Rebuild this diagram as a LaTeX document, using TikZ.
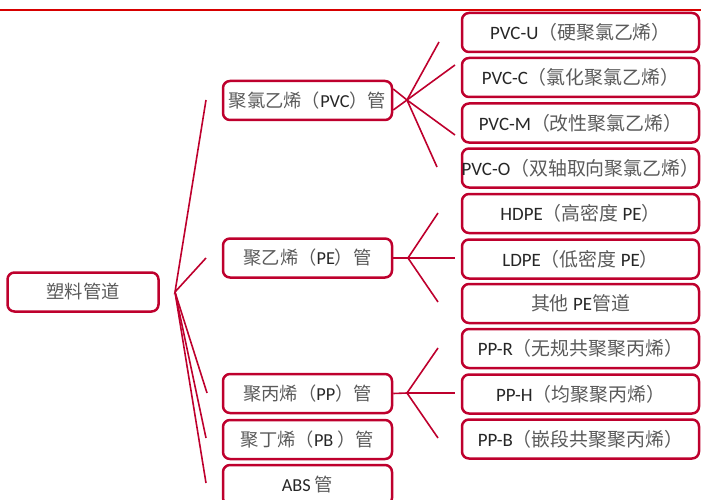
\documentclass[tikz,border=0pt]{standalone}
\usepackage{fontspec}
\setmainfont{Carlito}
\newfontfamily\cjkf{Noto Sans CJK SC}
\usetikzlibrary{calc}
\definecolor{boxred}{RGB}{190,0,45}
\definecolor{topred}{RGB}{215,0,0}
\definecolor{cjkgray}{RGB}{90,90,90}
\newcommand{\zh}[1]{{\cjkf\color{cjkgray}#1}}
\newcommand{\lbl}[1]{\makebox[0pt][c]{#1}}
\tikzset{
  box/.style={draw=boxred, line width=2.5pt, rounded corners=7pt, minimum height=39pt,
    inner sep=0pt, font=\fontsize{18.3}{20}\selectfont, text=black!85},
  rootbox/.style={box, minimum width=151pt},
  midbox/.style={box, minimum width=169pt},
  leafbox/.style={box, minimum width=237pt, font=\fontsize{18.9}{20}\selectfont},
  link/.style={draw=boxred, line width=1.6pt},
  topline/.style={draw=topred, line width=1.4pt},
}
\begin{document}
\begin{tikzpicture}[x=1pt,y=-1pt]
\useasboundingbox (0,0) rectangle (701,500);
\clip (0,0) rectangle (701,500);
% top rule
\coordinate (tl) at (0,10);
\coordinate (tr) at (701,10);
\draw[topline] (tl) -- (tr);

% root
\node[rootbox] (root) at (83,292) {\lbl{\zh{塑料管道}}};

% level 2
\node[midbox] (pvc) at (307.5,100.5) {\lbl{\zh{聚氯乙烯（}PVC\zh{）管}}};
\node[midbox] (pe)  at (307.5,258)   {\lbl{\zh{聚乙烯（}PE\zh{）管}}};
\node[midbox] (pp)  at (307.5,393.5) {\lbl{\zh{聚丙烯（}PP\zh{）管}}};
\node[midbox] (pb)  at (307.5,439.5) {\lbl{\zh{聚丁烯（}PB \zh{）管}}};
\node[midbox, minimum height=40pt] (abs) at (307.5,485) {\lbl{ABS \zh{管}}};

% leaves
\node[leafbox] (pvcu) at (580.5,32.5)  {\lbl{PVC-U\zh{（硬聚氯乙烯）}}};
\node[leafbox] (pvcc) at (580.5,77.5)  {\lbl{PVC-C\zh{（氯化聚氯乙烯）}}};
\node[leafbox] (pvcm) at (580.5,123)   {\lbl{PVC-M\zh{（改性聚氯乙烯）}}};
\node[leafbox] (pvco) at (580.5,168)   {\lbl{PVC-O\zh{（双轴取向聚氯乙烯）}}};
\node[leafbox] (hdpe) at (580.5,213.5) {\lbl{HDPE\zh{（高密度} PE\zh{）}}};
\node[leafbox] (ldpe) at (580.5,259)   {\lbl{LDPE\zh{（低密度} PE\zh{）}}};
\node[leafbox] (ope)  at (580.5,303.5) {\lbl{\zh{其他} PE\zh{管道}}};
\node[leafbox] (ppr)  at (580.5,348.5) {\lbl{PP-R\zh{（无规共聚聚丙烯）}}};
\node[leafbox] (pph)  at (580.5,394)   {\lbl{PP-H\zh{（均聚聚丙烯）}}};
\node[leafbox] (ppb)  at (580.5,439)   {\lbl{PP-B\zh{（嵌段共聚聚丙烯）}}};

% root fan
\coordinate (rf) at (175,292);
\coordinate (r1) at (206,100);
\coordinate (r2) at (206,258);
\coordinate (r3) at (207,393);
\coordinate (r4) at (206,438);
\coordinate (r5) at (206,483);
\draw[link] (r1) -- (rf) -- (r2);
\draw[link] (rf) -- (r3);
\draw[link] (rf) -- (r4);
\draw[link] (rf) -- (r5);

% PVC fan
\coordinate (vf) at (407,100);
\coordinate (v1) at (439,42);
\coordinate (v2) at (455,65);
\coordinate (v3) at (455,135);
\coordinate (v4) at (437,167);
\draw[link] ($(pvc.east)+(0,-11.5)$) -- (vf) -- ($(pvc.east)+(0,9.5)$);
\draw[link] (vf) -- (v1);
\draw[link] (vf) -- (v2);
\draw[link] (vf) -- (v3);
\draw[link] (vf) -- (v4);

% PE fan
\coordinate (ef) at (408,258);
\coordinate (e1) at (438,213);
\coordinate (e2) at (455,258);
\coordinate (e3) at (438,302);
\draw[link] (pe.east) -- (ef);
\draw[link] (ef) -- (e1);
\draw[link] (ef) -- (e2);
\draw[link] (ef) -- (e3);

% PP fan
\coordinate (pf) at (407,393);
\coordinate (p1) at (438,348);
\coordinate (p2) at (455,393);
\coordinate (p3) at (438,438);
\draw[link] (pp.east) -- (pf);
\draw[link] (pf) -- (p1);
\draw[link] (pf) -- (p2);
\draw[link] (pf) -- (p3);
\end{tikzpicture}
\end{document}
